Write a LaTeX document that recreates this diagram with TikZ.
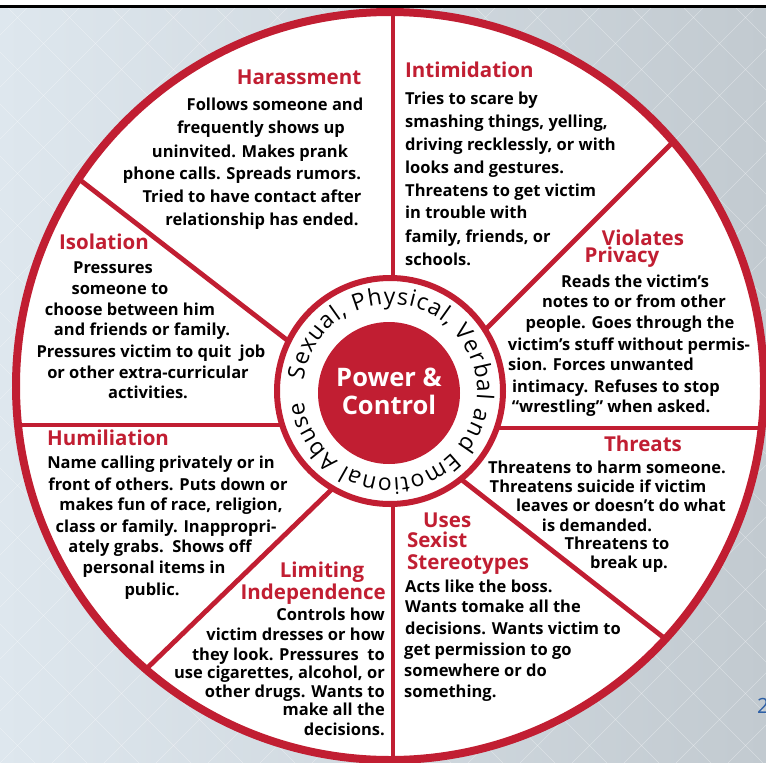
\documentclass[tikz,border=0pt]{standalone}
\usepackage{fontspec}
\setmainfont{Open Sans}
\usetikzlibrary{decorations.text}
\definecolor{wred}{RGB}{193,30,50}
\definecolor{bgl}{RGB}{222,231,238}
\definecolor{bgr}{RGB}{194,202,208}
\definecolor{slideblue}{RGB}{45,95,165}
\begin{document}
\begin{tikzpicture}[x=1pt,y=-1pt,
  body/.style={font=\bfseries\fontsize{16.5}{20}\selectfont, inner sep=0pt, text=black},
  ttl/.style={font=\bfseries\fontsize{20.5}{23}\selectfont, inner sep=0pt, text=wred},
  spoke/.style={draw=wred, line width=4.8pt},
  lft/.style={anchor=mid west},
  rgt/.style={anchor=mid east},
  ctr/.style={anchor=mid},
]
\clip (0,0) rectangle (766,763);
% background
\shade[left color=bgl, right color=bgr] (0,0) rectangle (766,763);
\begin{scope}[white, opacity=0.35, line width=0.6pt]
  \foreach \k in {-780,-728,...,780} {
    \draw (\k,0) -- (\k+763,763);
    \draw (\k+763,0) -- (\k,763);
  }
\end{scope}
\fill[white] (0,0) rectangle (766,4.5);
\fill[black] (0,4.5) rectangle (766,7.5);
% wheel
\fill[white] (390,386) circle (376pt);
\begin{scope}
  \clip (390,386) circle (376pt);
  \draw[spoke] (393,391) -- (393,0);
  \draw[spoke] (393,391) -- (393,770);
  \draw[spoke] (390,425) -- (0,425);
  \draw[spoke] (390,428) -- (770,428);
  \draw[spoke] (40,149) -- (340,381);
  \draw[spoke] (700,115) -- (430,385);
  \draw[spoke] (700,666) -- (430,455);
  \draw[spoke] (140,675) -- (360,462);
\end{scope}
\draw[wred, line width=8pt] (390,386) circle (374pt);
% hub
\begin{scope}[shift={(390,391)}, x=1pt, y=1pt]
  \draw[wred, line width=6pt, fill=white] (0,0) circle (113pt);
  \fill[wred] (-1,-2) circle (71pt);
  \path[decorate, decoration={text along path, text align=fit to path,
      text={|\fontsize{23}{23}\selectfont|Sexual, Physical, Verbal and Emotional Abuse}}]
      (173:87) arc[start angle=173, end angle=-173, radius=87];
  \node[font=\bfseries\fontsize{25.5}{28}\selectfont, text=white, align=center, inner sep=0pt] (pc) at (-1,0) {Power \&\\[0pt]Control};
\end{scope}
\begin{scope}[yshift=-3pt]
% Harassment
\node[ttl,ctr] (h0) at (299,79) {Harassment};
\node[body,ctr] (h1) at (275,105) {Follows someone and};
\node[body,ctr] (h2) at (261,128) {frequently shows up};
\node[body,ctr] (h3) at (250,152) {uninvited. Makes prank};
\node[body,ctr] (h4) at (242,174) {phone calls. Spreads rumors.};
\node[body,ctr] (h5) at (252,197) {Tried to have contact after};
\node[body,ctr] (h6) at (262,220) {relationship has ended.};
% Intimidation
\node[ttl,lft] (i0) at (405,72) {Intimidation};
\node[body,lft] (i1) at (405,99) {Tries to scare by};
\node[body,lft] (i2) at (405,122) {smashing things, yelling,};
\node[body,lft] (i3) at (405,145) {driving recklessly, or with};
\node[body,lft] (i4) at (405,168) {looks and gestures.};
\node[body,lft] (i5) at (405,191) {Threatens to get victim};
\node[body,lft] (i6) at (405,213) {in trouble with};
\node[body,lft] (i7) at (405,237) {family, friends, or};
\node[body,lft] (i8) at (405,260) {schools.};
% Isolation
\node[ttl,lft] (s0) at (59,244) {Isolation};
\node[body,ctr] (s1) at (113,268) {Pressures};
\node[body,ctr] (s2) at (120,289) {someone to};
\node[body,ctr] (s3) at (130,310) {choose between him};
\node[body,ctr] (s4) at (142,330) {and friends or family.};
\node[body,ctr] (s5) at (151,352) {Pressures victim to quit\ \ job};
\node[body,ctr] (s6) at (148,373) {or other extra-curricular};
\node[body,ctr] (s7) at (148,393) {activities.};
% Violates Privacy
\node[ttl,ctr] (v0) at (643,240) {Violates};
\node[ttl,ctr] (v1) at (622,257) {Privacy};
\node[body,ctr] (v2) at (635,282) {Reads the victim’s};
\node[body,ctr] (v3) at (634,302) {notes to or from other};
\node[body,ctr] (v4) at (630,323) {people. Goes through the};
\node[body,ctr] (v5) at (629,345) {victim’s stuff without permis-};
\node[body,ctr] (v6) at (601,365) {sion. Forces unwanted};
\node[body,ctr] (v7) at (616,387) {intimacy. Refuses to stop};
\node[body,ctr] (v8) at (611,407) {“wrestling” when asked.};
% Humiliation
\node[ttl,lft] (u0) at (47,440) {Humiliation};
\node[body,ctr] (u1) at (161,463) {Name calling privately or in};
\node[body,ctr] (u2) at (168,485) {front of others. Puts down or};
\node[body,ctr] (u3) at (171,505) {makes fun of race, religion,};
\node[body,ctr] (u4) at (166,527) {class or family. Inappropri-};
\node[body,ctr] (u5) at (160,547) {ately grabs.\ \ Shows off};
\node[body,ctr] (u6) at (154,568) {personal items in};
\node[body,ctr] (u7) at (152,590) {public.};
% Threats
\node[ttl,ctr] (t0) at (643,446) {Threats};
\node[body,ctr] (t1) at (607,468) {Threatens to harm someone.};
\node[body,ctr] (t2) at (598,487) {Threatens suicide if victim};
\node[body,ctr] (t3) at (621,506) {leaves or doesn’t do what};
\node[body,ctr] (t4) at (597,526) {is demanded.};
\node[body,ctr] (t5) at (617,544) {Threatens to};
\node[body,ctr] (t6) at (629,563) {break up.};
% Uses Sexist Stereotypes
\node[ttl,lft] (x0) at (423,522) {Uses};
\node[ttl,lft] (x1) at (407,542) {Sexist};
\node[ttl,lft] (x2) at (407,564) {Stereotypes};
\node[body,lft] (x3) at (405,587) {Acts like the boss.};
\node[body,lft] (x4) at (405,607) {Wants tomake all the};
\node[body,lft] (x5) at (405,629) {decisions. Wants victim to};
\node[body,lft] (x6) at (404,650) {get permission to go};
\node[body,lft] (x7) at (404,671) {somewhere or do};
\node[body,lft] (x8) at (404,692) {something.};
% Limiting Independence
\node[ttl,ctr] (l0) at (322,572) {Limiting};
\node[ttl,rgt] (l1) at (386,594) {Independence};
\node[body,rgt] (l2) at (385,615) {Controls how};
\node[body,rgt] (l3) at (385,635) {victim dresses or how};
\node[body,rgt] (l4) at (385,655) {they look. Pressures\ \ to};
\node[body,rgt] (l5) at (385,673) {use cigarettes, alcohol, or};
\node[body,rgt] (l6) at (385,692) {other drugs. Wants to};
\node[body,rgt] (l7) at (385,710) {make all the};
\node[body,rgt] (l8) at (385,730) {decisions.};
\end{scope}
% slide number
\node[anchor=mid west, font=\fontsize{21}{21}\selectfont, text=slideblue, inner sep=0pt] (pg) at (757,711) {2};
\end{tikzpicture}
\end{document}
